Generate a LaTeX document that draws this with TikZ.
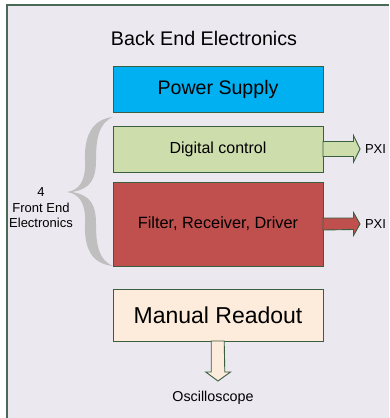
\documentclass[tikz,border=0pt]{standalone}
\usepackage{fontspec}
\setmainfont{Liberation Sans}
\usetikzlibrary{calc}
\definecolor{panelbg}{HTML}{EBE8F0}
\definecolor{panelline}{HTML}{4A6A58}
\definecolor{edgegreen}{HTML}{3A5E40}
\definecolor{psblue}{HTML}{00B0F0}
\definecolor{dcgreen}{HTML}{CDDDAC}
\definecolor{frred}{HTML}{C0504D}
\definecolor{mrcream}{HTML}{FDEBDB}
\definecolor{bracegray}{HTML}{BFBFBF}
\newcommand{\fs}[1]{\fontsize{#1}{#1}\selectfont}
\tikzset{
  blockbox/.style={draw=edgegreen, line width=0.9pt, inner sep=0pt, outer sep=0pt,
    minimum width=210pt, align=center},
  blockarrow/.style={draw=edgegreen, line width=0.9pt, line join=miter},
  plain/.style={inner sep=0pt, outer sep=0pt, align=center}
}
\begin{document}
\begin{tikzpicture}[x=1pt, y=-1pt]
  \useasboundingbox (0,0) rectangle (389,418);
  \fill[white] (0,0) rectangle (389,418);
  % panel background, running off the right and bottom edges
  \fill[panelbg] (7,5) rectangle (389,418);
  \draw[panelline, line width=1.6pt] (7,418) -- (7,5) -- (389,5);

  \node[plain, font=\fs{19.7}] (title) at (204,38) {Back End Electronics};

  \node[blockbox, fill=psblue, minimum height=46pt, font=\fs{19.6}] (ps) at (218,89) {Power Supply};
  \node[blockbox, fill=dcgreen, minimum height=46pt, font=\fs{16}] (dc) at (218,149) {Digital control};
  \node[blockbox, fill=frred, minimum height=84pt, font=\fs{16.3}] (fr) at (218,224) {Filter, Receiver, Driver};
  \node[blockbox, fill=mrcream, minimum height=52pt, font=\fs{23}] (mr) at (218,315) {Manual Readout};

  % outputs
  \node[plain, anchor=west, font=\fs{13}] (pxia) at (365,149) {PXI};
  \node[plain, anchor=west, font=\fs{13}] (pxib) at (365,224) {PXI};
  \node[plain, font=\fs{14.3}] (osc) at (213,398) {Oscilloscope};

  % block arrows
  \draw[blockarrow, fill=dcgreen] ($(dc.east)+(0,-7.5)$) -- ++(30.5,0) -- ++(0,-6)
     -- ($(dc.east)+(37,0)$) -- ++(-6.5,13) -- ++(0,-5.5) -- ($(dc.east)+(0,7.5)$) -- cycle;
  \draw[blockarrow, fill=frred] ($(fr.east)+(0,-6)$) -- ++(30.5,0) -- ++(0,-5.5)
     -- ($(fr.east)+(37,0)$) -- ++(-6.5,11.5) -- ++(0,-6) -- ($(fr.east)+(0,6)$) -- cycle;
  \draw[blockarrow, fill=mrcream] ($(mr.south)+(-6.8,0)$) -- ++(0,31) -- ++(-5.5,0)
     -- ($(mr.south)+(0,40)$) -- ++(12.5,-9) -- ++(-5.7,0) -- ($(mr.south)+(6.2,0)$) -- cycle;

  % curly brace spanning the front end blocks
  \coordinate (btop) at (113,117);
  \coordinate (bbot) at (113,266);
  \coordinate (btip) at (67,192);
  \fill[bracegray] (btop) .. controls (93,119) and (84,135) .. (85,160)
     .. controls (86,180) and (80,190) .. (btip)
     .. controls (80,194) and (86,204) .. (85,224)
     .. controls (84,250) and (93,264) .. (bbot)
     .. controls (99,260) and (96,246) .. (96,224)
     .. controls (96,204) and (90,195) .. (72,192)
     .. controls (90,189) and (96,180) .. (96,160)
     .. controls (96,138) and (99,123) .. (btop) -- cycle;

  \node[plain, font=\fontsize{13}{15.5}\selectfont] (fe) at (41,208) {4\\Front End\\Electronics};
\end{tikzpicture}
\end{document}
